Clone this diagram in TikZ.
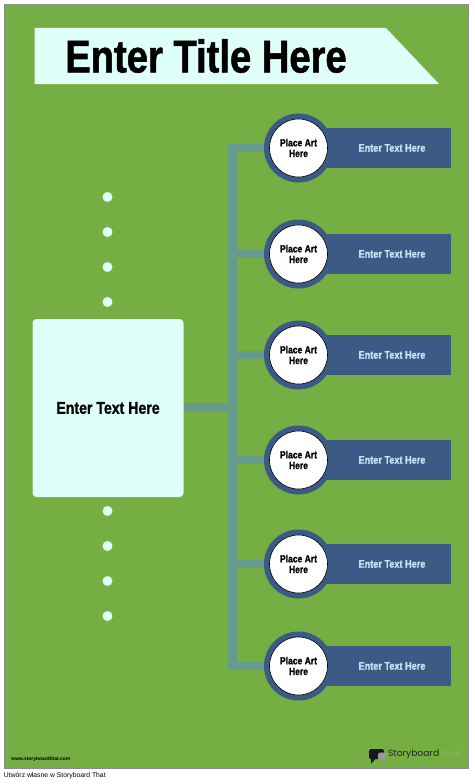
\documentclass[tikz,border=0pt]{standalone}
\usepackage{fontspec}
\setmainfont{Liberation Sans}
\newfontfamily\condfont[FakeStretch=0.83,FakeBold=1.2]{Liberation Sans Bold}
\newfontfamily\logofont{Poppins}
\definecolor{bggreen}{HTML}{75AE42}
\definecolor{paleaqua}{HTML}{DFFFF9}
\definecolor{navy}{HTML}{3B5A85}
\definecolor{trunk}{HTML}{659C8E}
\definecolor{pale}{HTML}{C8E4F4}
\tikzset{x=1pt,y=-1pt,
 every node/.style={inner sep=0pt,outer sep=0pt},
 ring/.style={circle,fill=navy,minimum size=69pt},
 artdisc/.style={circle,fill=white,draw=black,line width=0.6pt,minimum size=58pt,align=center,font=\condfont\fontsize{10.3}{10.7}\selectfont},
 band/.style={rectangle,fill=navy,minimum width=153pt,minimum height=40pt},
 bandtext/.style={text=pale,font=\condfont\fontsize{11}{12}\selectfont},
 dotmark/.style={circle,fill=paleaqua,minimum size=10pt},
 link/.style={draw=trunk,line width=8.5pt},
 mainbox/.style={rectangle,rounded corners=4pt,fill=paleaqua,minimum width=151pt,minimum height=178pt,font=\condfont\fontsize{17}{18}\selectfont}}
\begin{document}
\begin{tikzpicture}
\useasboundingbox (0,0) rectangle (474,784);
\fill[white] (0,0) rectangle (474,784);
\draw[fill=bggreen,draw=black!45,line width=0.5pt] (4.5,4.5) rectangle (468.5,768.5);
\fill[paleaqua] (34.5,28) -- (386,28) -- (439,84) -- (34.5,84) -- cycle;
\node[font=\condfont\fontsize{46}{50}\selectfont] (title) at (206,56) {Enter Title Here};
\node[mainbox] (main) at (108,408) {Enter Text Here};
\coordinate (hub) at (232.5,407.5);
\foreach \y/\n in {197/1,232/2,267/3,302/4,511/5,546/6,581/7,616/8}
  \node[dotmark] (dot\n) at (107.5,\y) {};
\foreach \cy/\n in {148/1,254/2,355/3,460/4,564/5,666/6}{
  \coordinate (tap\n) at (232.5,\cy);
}
\draw[link] (main.east |- hub) -- (hub);
\draw[link,line cap=butt] ([yshift=-4.25pt]tap1) -- ([yshift=4.25pt]tap6);
\foreach \cy/\n in {148/1,254/2,355/3,460/4,564/5,666/6}{
  \node[band] (band\n) at (374.5,\cy) {};
  \node[ring] (ring\n) at (298.5,\cy) {};
  \draw[link] ([xshift=-4.25pt]tap\n) -- (ring\n.west);
  \node[artdisc] (art\n) at (298.5,\cy) {Place Art\\Here};
  \node[bandtext] (txt\n) at (392,\cy) {Enter Text Here};
}
\node[anchor=west,font=\bfseries\fontsize{4.9}{5}\selectfont] (web) at (11.5,759) {www.storyboardthat.com};
\node[anchor=west,font=\fontsize{6.8}{9}\selectfont] (credit) at (4,776) {Utwórz własne w Storyboard That};
\fill[black!90,rounded corners=1.5pt] (369,749) rectangle (384,759);
\fill[black!90] (371,757) -- (371,764) -- (377,757) -- cycle;
\fill[black!40,rounded corners=1.5pt] (378,752.5) rectangle (386,760.5);
\node[anchor=west,text=black!85,font=\logofont\fontsize{9.2}{12}\selectfont] (logo) at (388,754.5) {Storyboard};
\node[anchor=west,text=bggreen!88!white,font=\logofont\fontsize{9.2}{12}\selectfont] (logob) at (441,754.5) {That};
\end{tikzpicture}
\end{document}
